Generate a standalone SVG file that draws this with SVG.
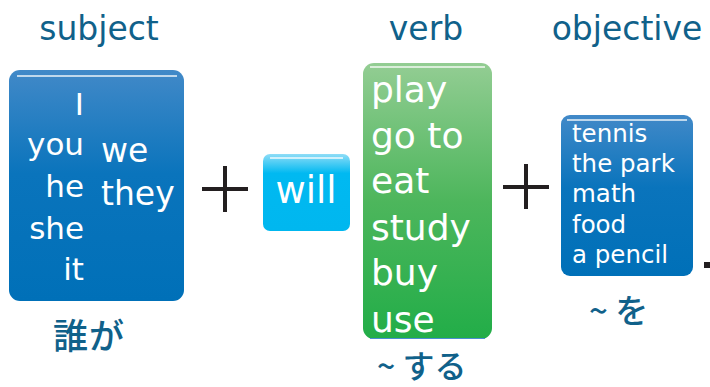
<svg xmlns="http://www.w3.org/2000/svg" width="710" height="387" viewBox="0 0 710 387">
<defs>
<linearGradient id="gBlue" x1="0" y1="0" x2="0" y2="1">
<stop offset="0" stop-color="#4189C8"/>
<stop offset="0.45" stop-color="#0A74BC"/>
<stop offset="1" stop-color="#0070B8"/>
</linearGradient>
<linearGradient id="gGreen" x1="0" y1="0" x2="0" y2="1">
<stop offset="0" stop-color="#93CD93"/>
<stop offset="0.5" stop-color="#4DB65C"/>
<stop offset="1" stop-color="#22AD48"/>
</linearGradient>
<linearGradient id="gCyan" x1="0" y1="0" x2="0" y2="1">
<stop offset="0" stop-color="#8FDDF7"/>
<stop offset="0.25" stop-color="#00B9F1"/>
<stop offset="1" stop-color="#00B7EF"/>
</linearGradient>
<style>
.hdr{font-family:"DejaVu Sans",Verdana,sans-serif;font-size:33px;fill:#10618A;text-anchor:middle}
.w{font-family:"DejaVu Sans",Verdana,sans-serif;fill:#FFFFFF}
.jp{font-family:"Noto Sans CJK JP",sans-serif;fill:#10618A;font-weight:500}
.hl{stroke:#FFFFFF;stroke-width:1.5;opacity:0.9}
.op{fill:#231F20}
</style>
</defs>

<g id="headers">
<text class="hdr" x="99" y="40">subject</text>
<text class="hdr" x="426" y="40">verb</text>
<text class="hdr" x="627" y="40">objective</text>
</g>

<g id="subject">
<rect x="9" y="70" width="175" height="231" rx="11" fill="url(#gBlue)"/>
<line class="hl" x1="17" y1="76" x2="177" y2="76"/>
<g class="w" font-size="31" text-anchor="end">
<text x="84" y="115">I</text>
<text x="84" y="155">you</text>
<text x="84" y="197">he</text>
<text x="84" y="239">she</text>
<text x="84" y="280">it</text>
</g>
<g class="w" font-size="33">
<text x="101" y="162">we</text>
<text x="101" y="205">they</text>
</g>
</g>

<g id="will">
<rect x="263" y="154" width="87" height="77" rx="7" fill="url(#gCyan)"/>
<line class="hl" x1="270" y1="158" x2="343" y2="158"/>
<text class="w" x="306" y="203" font-size="37" text-anchor="middle">will</text>
</g>

<g id="verb">
<rect x="363" y="63" width="129" height="276" rx="11" fill="url(#gGreen)"/>
<line x1="370" y1="338.5" x2="485" y2="338.5" stroke="#4A8FD0" stroke-width="1"/>
<line class="hl" x1="370" y1="67" x2="485" y2="67"/>
<g class="w" font-size="36">
<text x="371" y="102">play</text>
<text x="371" y="148">go to</text>
<text x="371" y="193">eat</text>
<text x="371" y="240">study</text>
<text x="371" y="285">buy</text>
<text x="371" y="332">use</text>
</g>
</g>

<g id="objective">
<rect x="561" y="115" width="132" height="161" rx="9" fill="url(#gBlue)"/>
<line class="hl" x1="567" y1="120" x2="687" y2="120"/>
<g class="w" font-size="24.5">
<text x="572" y="142">tennis</text>
<text x="572" y="172">the park</text>
<text x="572" y="202">math</text>
<text x="572" y="233">food</text>
<text x="572" y="263">a pencil</text>
</g>
</g>

<g id="operators">
<rect class="op" x="223" y="166" width="4" height="46"/>
<rect class="op" x="202" y="187" width="46" height="4"/>
<rect class="op" x="524" y="164" width="4" height="45"/>
<rect class="op" x="503" y="185" width="46" height="4"/>
<rect class="op" x="704" y="262" width="6" height="6"/>
</g>

<g id="notes">
<text class="jp" x="53" y="349" font-size="35" letter-spacing="1">誰が</text>
<text class="jp" x="377" y="378" font-size="32">~ する</text>
<text class="jp" x="589" y="323" font-size="33">~ を</text>
</g>
</svg>
